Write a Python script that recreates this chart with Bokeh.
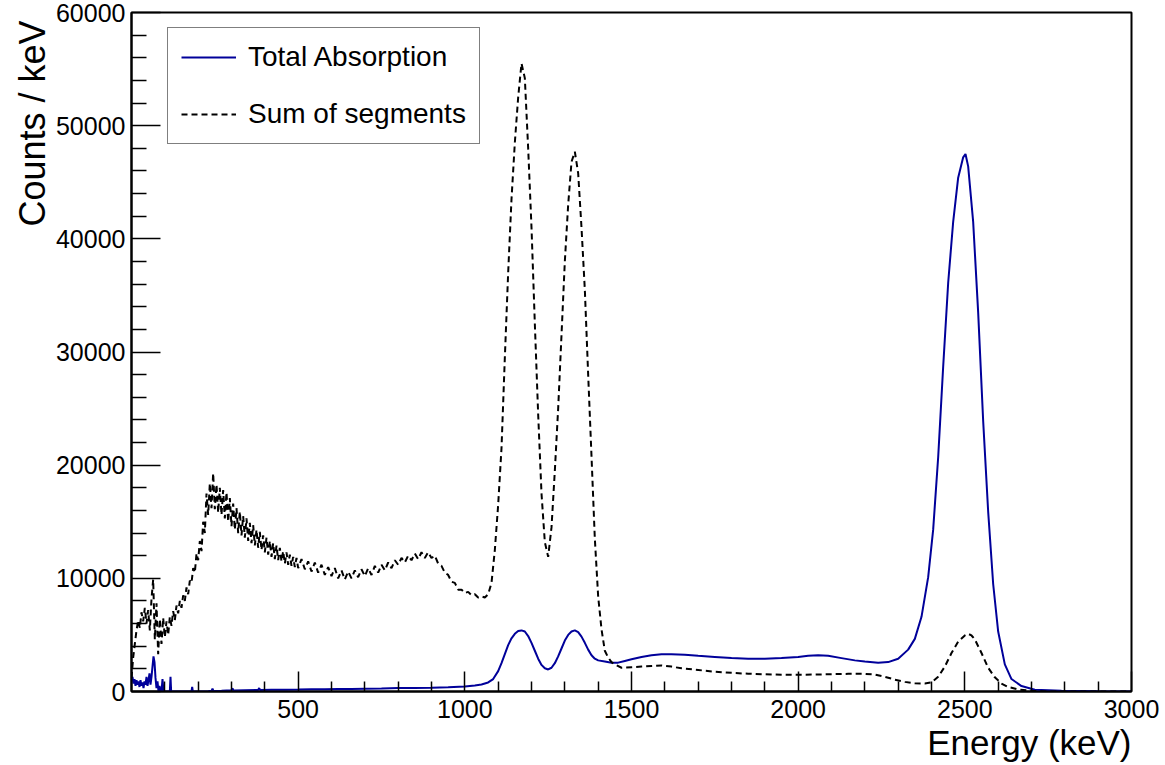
from bokeh.plotting import figure
from bokeh.models import Range1d, FixedTicker, Title, Legend, LegendItem
from bokeh.embed import file_html
from bokeh.resources import INLINE

# ---- data ----
x_major = [500, 1000, 1500, 2000, 2500, 3000]
x_tick_labels = ["500", "1000", "1500", "2000", "2500", "3000"]
x_minor = [100, 200, 300, 400, 600, 700, 800, 900, 1100, 1200, 1300, 1400,
           1600, 1700, 1800, 1900, 2100, 2200, 2300, 2400, 2600, 2700, 2800, 2900]
y_major = [0, 10000, 20000, 30000, 40000, 50000, 60000]
y_tick_labels = ["0", "10000", "20000", "30000", "40000", "50000", "60000"]
y_minor = [2000, 4000, 6000, 8000, 12000, 14000, 16000, 18000, 22000, 24000, 26000, 28000,
           32000, 34000, 36000, 38000, 42000, 44000, 46000, 48000, 52000, 54000, 56000, 58000]

# Total Absorption (blue)
total_energy = [0, 3, 6, 9, 12, 15, 18, 21, 24, 27, 30, 33, 36, 39, 42, 45, 48, 51, 54, 57,
                60, 63, 66, 69, 72, 75, 78, 81, 84, 87, 90, 93, 96, 110, 115, 117, 119, 180,
                182, 184, 230, 240, 243, 246, 270, 300, 303, 306, 340, 380, 383, 386, 420, 460,
                500, 540, 580, 620, 660, 700, 750, 800, 850, 900, 950, 1000, 1030, 1050, 1070,
                1085, 1100, 1110, 1120, 1130, 1140, 1150, 1160, 1170, 1180, 1190, 1200, 1210,
                1220, 1230, 1240, 1250, 1260, 1270, 1280, 1290, 1300, 1310, 1320, 1330, 1340,
                1350, 1360, 1370, 1380, 1390, 1400, 1420, 1440, 1460, 1480, 1500, 1530, 1560,
                1590, 1620, 1660, 1700, 1750, 1800, 1850, 1900, 1950, 2000, 2030, 2060, 2090,
                2130, 2170, 2200, 2240, 2270, 2300, 2330, 2350, 2370, 2390, 2405, 2420, 2435,
                2450, 2465, 2480, 2495, 2502, 2510, 2525, 2540, 2555, 2570, 2585, 2600, 2620,
                2640, 2670, 2710, 2790, 2900, 3000]
total_counts = [900, 1300, 700, 1100, 500, 1000, 600, 900, 400, 1000, 500, 800, 300, 900, 600,
                1300, 500, 1000, 1600, 600, 1300, 2200, 3100, 2600, 1200, 300, 900, 0, 500, 0,
                0, 1100, 0, 0, 0, 1300, 0, 0, 400, 0, 30, 60, 260, 40, 70, 110, 280, 90, 120,
                140, 300, 130, 160, 150, 170, 200, 190, 210, 230, 250, 270, 300, 320, 340, 380,
                450, 530, 620, 800, 1100, 1800, 2500, 3300, 4100, 4700, 5100, 5350, 5400, 5300,
                4900, 4300, 3600, 2900, 2350, 2050, 1950, 2100, 2500, 3100, 3800, 4500, 5000,
                5300, 5400, 5250, 4850, 4300, 3700, 3200, 2900, 2750, 2650, 2550, 2550, 2700,
                2850, 3050, 3200, 3300, 3300, 3250, 3150, 3050, 2950, 2900, 2900, 2950, 3050,
                3150, 3200, 3150, 2950, 2750, 2650, 2550, 2600, 2900, 3700, 4650, 6600, 10100,
                14300, 20700, 28700, 36100, 41500, 45400, 47200, 47500, 46400, 41500, 33500,
                23900, 15900, 9500, 5300, 2400, 1100, 480, 160, 60, 20, 10]

# Sum of segments (black dashed)
sum_energy = [0, 5, 10, 15, 20, 25, 30, 35, 40, 45, 50, 55, 60, 65, 70, 75, 80, 85, 90, 95,
              100, 105, 110, 115, 120, 125, 130, 135, 140, 145, 150, 155, 160, 165, 170, 175,
              180, 185, 190, 195, 200, 205, 210, 215, 220, 225, 230, 235, 240, 245, 250, 255,
              260, 265, 270, 275, 280, 285, 290, 295, 300, 305, 310, 315, 320, 325, 330, 335,
              340, 345, 350, 355, 360, 365, 370, 375, 380, 385, 390, 395, 400, 405, 410, 415,
              420, 425, 430, 435, 440, 445, 450, 455, 460, 465, 470, 475, 480, 485, 490, 495,
              500, 510, 520, 530, 540, 550, 560, 570, 580, 590, 600, 610, 620, 630, 640, 650,
              660, 670, 680, 690, 700, 710, 720, 730, 740, 750, 760, 770, 780, 790, 800, 810,
              820, 830, 840, 850, 860, 870, 880, 890, 900, 910, 920, 930, 940, 950, 960, 970,
              980, 990, 1000, 1010, 1020, 1030, 1040, 1050, 1060, 1070, 1080, 1090, 1100, 1110,
              1120, 1130, 1140, 1150, 1160, 1170, 1180, 1190, 1200, 1210, 1220, 1230, 1240,
              1250, 1260, 1270, 1280, 1290, 1300, 1310, 1320, 1330, 1340, 1350, 1360, 1370,
              1380, 1390, 1400, 1410, 1420, 1430, 1440, 1450, 1470, 1500, 1530, 1560, 1590,
              1620, 1650, 1700, 1750, 1800, 1850, 1900, 1950, 2000, 2050, 2100, 2150, 2200,
              2230, 2260, 2290, 2320, 2350, 2380, 2400, 2420, 2440, 2460, 2480, 2500, 2510,
              2520, 2530, 2550, 2570, 2590, 2610, 2630, 2660, 2700, 2750, 3000]
sum_counts = [1200, 3000, 4200, 5400, 6300, 5600, 7000, 6200, 7400, 6000, 7200, 5400, 8200,
              9900, 4600, 7800, 3300, 6400, 4200, 6500, 4800, 6200, 5000, 6600, 5800, 7100,
              6300, 7600, 6900, 8000, 7400, 8500, 8000, 9200, 8600, 9800, 9600, 10900, 10500,
              12200, 11600,
              13300, 12400, 15000, 14000, 17500, 15600, 18400, 16200, 19300, 16100, 18300,
              15800, 18000, 15600, 17800, 15300, 17600, 15000, 17100, 14600, 16600, 14300,
              16200, 14000, 15900, 13800, 15500, 13600, 15300, 13300, 14900, 13100, 14700,
              12900, 14300, 12700, 14100, 12500, 13800, 12300, 13600, 12100, 13300, 11900,
              13100, 11700, 12900, 11600, 12700, 11500, 12400, 11300, 12300, 11200, 12100,
              11100, 11900, 11000, 11800,
              10900, 11700, 10800, 11500, 10600, 11400, 10500, 11200, 10300, 11000, 10200,
              10900, 10000, 10700, 9900, 10600, 10000, 10700, 10100, 10800, 10200, 10900,
              10300, 11100, 10500, 11200, 10700, 11400, 10900, 11600, 11200, 11800, 11400,
              12000, 11600, 12200, 11700, 12300, 11800, 12300, 11800, 12000, 11300, 11100,
              10500, 10300, 9700, 9600, 9000, 9000, 8700, 8800, 8500, 8600, 8300, 8400, 8300,
              8600,
              9600, 12500, 16500, 21500,
              29500, 37000, 43500, 48500, 52500, 55500, 54200, 48000, 41000, 32500, 24500,
              17500, 13200, 11900, 14500, 19500, 25000, 31500, 38000, 43000, 46800, 47700,
              45800, 41000, 35500, 28000, 20800, 13500, 8400, 5500, 3600, 3000, 2600, 2400,
              2100, 2150, 2200, 2250, 2300, 2200, 2050, 1900, 1750, 1650, 1570, 1520, 1480,
              1470, 1500, 1530, 1560, 1560, 1500, 1300, 1050, 850, 720, 700, 800, 1300, 2200,
              3400, 4400, 4950, 5100, 4950, 4600, 3400, 2100, 1250, 700, 400, 180, 50, 0, 0]

FONT = "Liberation Sans"

p = figure(width=1165, height=765, output_backend="svg", toolbar_location=None,
           x_range=Range1d(0, 3000), y_range=Range1d(0, 60000),
           min_border_left=131, min_border_right=34, min_border_top=12, min_border_bottom=74)
p.xgrid.visible = False
p.ygrid.visible = False
p.background_fill_color = "white"
p.border_fill_color = "white"
p.outline_line_color = "black"
p.outline_line_width = 2

p.xaxis.ticker = FixedTicker(ticks=x_major, minor_ticks=x_minor)
p.yaxis.ticker = FixedTicker(ticks=y_major, minor_ticks=y_minor)
p.xaxis.major_label_overrides = {v: s for v, s in zip(x_major, x_tick_labels)}
p.yaxis.major_label_overrides = {v: s for v, s in zip(y_major, y_tick_labels)}

for ax in (p.xaxis, p.yaxis):
    ax.axis_line_color = "black"
    ax.axis_line_width = 2
    ax.major_tick_line_color = "black"
    ax.minor_tick_line_color = "black"
    ax.major_tick_line_width = 1.5
    ax.minor_tick_line_width = 1.5
    ax.major_tick_out = 0
    ax.minor_tick_out = 0
    ax.major_label_text_font = FONT
    ax.major_label_text_font_size = "25px"
    ax.major_label_text_color = "black"

p.xaxis.major_tick_in = 20
p.xaxis.minor_tick_in = 10
p.yaxis.major_tick_in = 29
p.yaxis.minor_tick_in = 15
p.xaxis.major_label_standoff = 8
p.yaxis.major_label_standoff = 6

r_total = p.line(total_energy, total_counts, line_color="#00009a", line_width=2)
r_sum = p.line(sum_energy, sum_counts, line_color="black", line_width=2, line_dash="6 4")

legend = Legend(items=[LegendItem(label="Total Absorption", renderers=[r_total]),
                       LegendItem(label="Sum of segments", renderers=[r_sum])],
                location=(36, 547), orientation="vertical",
                border_line_color="black", border_line_width=1,
                background_fill_color="white", background_fill_alpha=1.0,
                label_text_font=FONT, label_text_font_size="28px", label_text_color="black",
                glyph_width=55, glyph_height=32, label_height=32,
                label_standoff=12, padding=13, spacing=25, margin=0)
p.add_layout(legend)

xt = Title(text="Energy (keV)", align="right", text_font=FONT, text_font_size="35px",
           text_font_style="normal", text_color="black", standoff=0, offset=0)
p.add_layout(xt, "below")
yt = Title(text="Counts / keV", align="right", text_font=FONT, text_font_size="36px",
           text_font_style="normal", text_color="black", standoff=0, offset=8)
p.add_layout(yt, "left")

open("out.html", "w").write(file_html(p, INLINE))
